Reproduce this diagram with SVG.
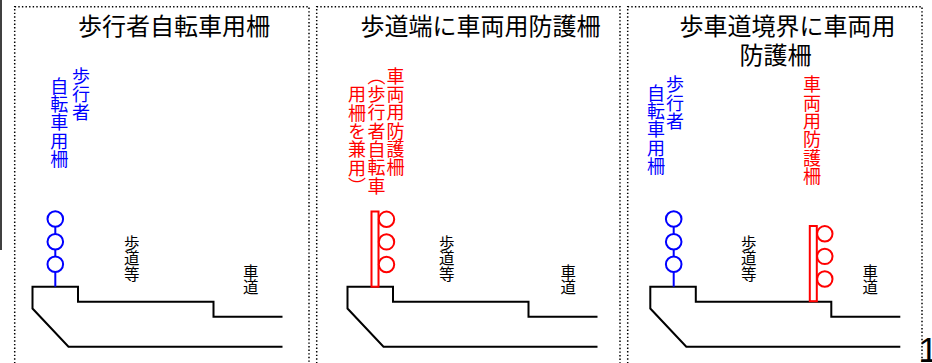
<svg xmlns="http://www.w3.org/2000/svg" xmlns:xlink="http://www.w3.org/1999/xlink" width="932" height="363" viewBox="0 0 932 363">
<style>
.frame{fill:none;stroke:#000;stroke-width:1.5;stroke-dasharray:1.4 2.2}
.curb{fill:none;stroke:#000;stroke-width:2;stroke-linejoin:miter}
.title{font-family:"Noto Sans CJK JP","Noto Sans",sans-serif;font-size:24px;fill:#000}
.v{font-family:"Noto Sans CJK JP","Noto Sans",sans-serif;writing-mode:vertical-rl;font-size:18px;letter-spacing:0.3px}
.lbl{font-family:"Noto Sans CJK JP","Noto Sans",sans-serif;writing-mode:vertical-rl;font-size:15.5px;fill:#000}
.blue{fill:#0000ff}
.red{fill:#ff0000}
.bf{fill:#fff;stroke:#0000ff;stroke-width:2}
.rf{fill:#fff;stroke:#ff0000;stroke-width:2}
</style>
<defs>
<path id="curbShape" class="curb" d="M282.5,316.7 H213.5 V301.7 H78 V286.7 H32.5 V308.5 L68.5,346.7 H282.5"/>
<g id="bluefence">
<line x1="0" y1="219" x2="0" y2="286.7" stroke="#0000ff" stroke-width="2"/>
<circle class="bf" cx="0" cy="219" r="7.8"/>
<circle class="bf" cx="0" cy="241.7" r="7.8"/>
<circle class="bf" cx="0" cy="264.2" r="7.8"/>
</g>
<g id="redfence">
<rect class="rf" x="0" y="0" width="7" height="75.2" fill="none"/>
<circle class="rf" cx="15" cy="7.8" r="7.7"/>
<circle class="rf" cx="15" cy="30.4" r="7.7"/>
<circle class="rf" cx="15" cy="53" r="7.7"/>
</g>
</defs>

<line id="edge-line" x1="1" y1="0" x2="1" y2="250" stroke="#000" stroke-width="1.5"/>

<g id="panel1">
<rect class="frame" x="14.7" y="6.7" width="294.3" height="370"/>
<text class="title" x="78" y="35">歩行者自転車用柵</text>
<text class="v blue" x="81" y="67">歩行者</text>
<text class="v blue" x="59.3" y="77">自転車用柵</text>
<use xlink:href="#curbShape"/>
<use xlink:href="#bluefence" x="55.3"/>
<text class="lbl" x="131.7" y="235">歩道等</text>
<text class="lbl" x="250.7" y="264">車道</text>
</g>

<g id="panel2">
<rect class="frame" x="316.7" y="6.7" width="303.3" height="370"/>
<text class="title" x="360.5" y="35">歩道端に車両用防護柵</text>
<text class="v red" x="395.5" y="67">車両用防護柵</text>
<text class="v red" x="376.5" y="67">（歩行者自転車</text>
<text class="v red" x="357" y="85.5">用柵を兼用）</text>
<use xlink:href="#curbShape" x="315"/>
<use xlink:href="#redfence" x="371.5" y="211.5"/>
<text class="lbl" x="446.7" y="235">歩道等</text>
<text class="lbl" x="568.3" y="264">車道</text>
</g>

<g id="panel3">
<rect class="frame" x="627.7" y="6.7" width="294.3" height="370"/>
<text class="title"><tspan x="679.5" y="35">歩車道境界に車両用</tspan><tspan x="739.5" y="63.5">防護柵</tspan></text>
<text class="v blue" x="675" y="75.5">歩行者</text>
<text class="v blue" x="656" y="84">自転車用柵</text>
<text class="v red" x="812" y="75.5">車両用防護柵</text>
<use xlink:href="#curbShape" x="617.8"/>
<use xlink:href="#bluefence" x="673.7"/>
<use xlink:href="#redfence" x="809.8" y="226"/>
<text class="lbl" x="748.7" y="235">歩道等</text>
<text class="lbl" x="870.3" y="264">車道</text>
</g>

<text id="page-num" x="918.5" y="362" font-family="Liberation Sans, Arial, sans-serif" font-size="35" fill="#000">1</text>
</svg>
